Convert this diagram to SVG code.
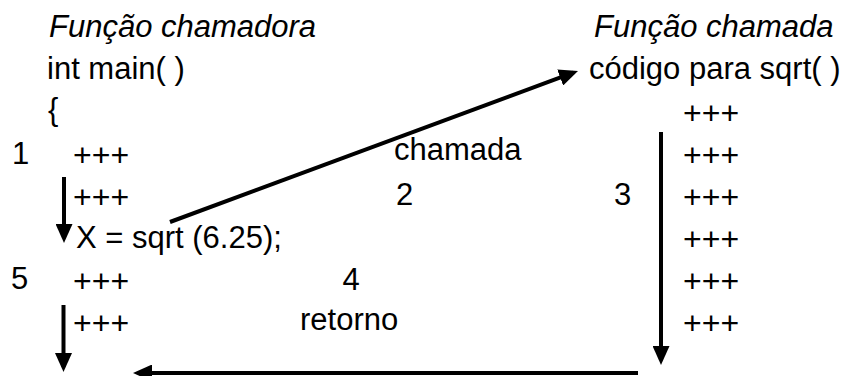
<svg xmlns="http://www.w3.org/2000/svg" width="851" height="376" viewBox="0 0 851 376">
<style>
  text { font-family: "Liberation Sans", Arial, sans-serif; fill: #000; }
  .t { font-size: 31px; }
  .it { font-style: italic; }
  .p { font-size: 32px; }
  .c { stroke: #000; stroke-width: 4; fill: none; }
</style>
<defs>
  <marker id="ah" markerUnits="userSpaceOnUse" markerWidth="19" markerHeight="17" refX="14" refY="8.5" orient="auto">
    <path d="M0,0 L19,8.5 L0,17 Z" fill="#000"/>
  </marker>
</defs>
<rect width="851" height="376" fill="#fff"/>
<g id="caller-title"><text class="t it" x="49" y="37">Função chamadora</text></g>
<g id="main-decl"><text class="t" x="47" y="79">int main( )</text></g>
<g id="brace"><text class="t" x="48" y="120">{</text></g>
<g id="step1"><text class="t" x="12" y="164">1</text></g>
<g id="call-stmt"><text class="t" x="76" y="248">X = sqrt (6.25);</text></g>
<g id="step5"><text class="t" x="11" y="289">5</text></g>
<g id="lbl-chamada"><text class="t" x="394" y="160">chamada</text></g>
<g id="step2"><text class="t" x="396" y="205">2</text></g>
<g id="step3"><text class="t" x="614" y="205">3</text></g>
<g id="step4"><text class="t" x="342.5" y="290">4</text></g>
<g id="lbl-retorno"><text class="t" x="300" y="330">retorno</text></g>
<g id="callee-title"><text class="t it" x="594" y="37">Função chamada</text></g>
<g id="sqrt-code"><text class="t" x="589" y="79">código para sqrt( )</text></g>
<g id="caller-body">
  <text class="p" x="73" y="166">+++</text>
  <text class="p" x="73" y="208">+++</text>
  <text class="p" x="73" y="292">+++</text>
  <text class="p" x="73" y="334">+++</text>
</g>
<g id="callee-body">
  <text class="p" x="683" y="124">+++</text>
  <text class="p" x="683" y="166">+++</text>
  <text class="p" x="683" y="208">+++</text>
  <text class="p" x="683" y="250">+++</text>
  <text class="p" x="683" y="292">+++</text>
  <text class="p" x="683" y="334">+++</text>
</g>
<g id="connectors">
  <line class="c" x1="64" y1="177" x2="64" y2="238" marker-end="url(#ah)"/>
  <line class="c" x1="170" y1="222" x2="573.3" y2="72.7" marker-end="url(#ah)"/>
  <line class="c" x1="661" y1="132" x2="661" y2="360" marker-end="url(#ah)"/>
  <line class="c" x1="638" y1="373" x2="138" y2="373" marker-end="url(#ah)"/>
  <line class="c" x1="63.5" y1="305" x2="63.5" y2="367" marker-end="url(#ah)"/>
</g>
</svg>
